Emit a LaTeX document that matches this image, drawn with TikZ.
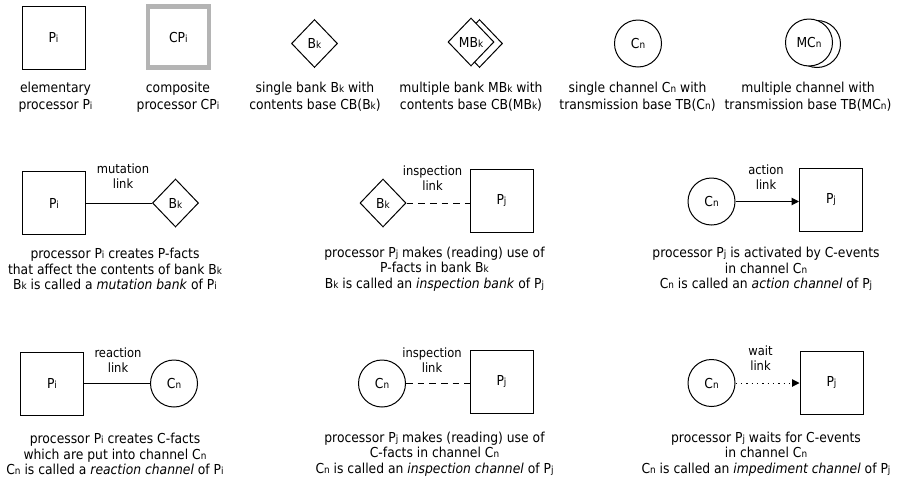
\documentclass[tikz,border=0pt]{standalone}
\usepackage{fontspec}
\setmainfont{DejaVu Sans Condensed}[ItalicFont={DejaVu Sans Condensed Oblique}]
\usetikzlibrary{shapes.geometric,arrows.meta}

% small index letters set on the baseline
\newcommand\ix[1]{{\fontsize{7.4}{7.4}\selectfont #1}}
\definecolor{cpgray}{RGB}{180,180,180}

\begin{document}
\begin{tikzpicture}[x=0.75pt,y=-0.75pt,
  every node/.style={font=\fontsize{10.3}{11.8}\selectfont},
  proc/.style={draw,line width=0.75pt,minimum size=47.25pt,inner sep=0pt,fill=white},
  cproc/.style={draw=cpgray,line width=3.2pt,minimum size=45.75pt,inner sep=0pt},
  bank/.style={draw,diamond,line width=0.75pt,minimum width=34.5pt,minimum height=36pt,inner sep=0pt,fill=white},
  chan/.style={draw,circle,line width=0.75pt,minimum size=35.25pt,inner sep=0pt,fill=white},
  captext/.style={align=center,inner sep=0pt},
  toptext/.style={captext,font=\fontsize{10.3}{12.6}\selectfont},
  linklabel/.style={align=center,inner sep=0pt,font=\fontsize{9.6}{11.25}\selectfont},
  link/.style={line width=0.75pt},
  dashlink/.style={link,dash pattern=on 5pt off 3.75pt},
  dotlink/.style={link,dash pattern=on 1.1pt off 2.9pt},
  tipped/.style={-{Triangle[length=5.5pt,width=5.5pt]}}
]
\useasboundingbox (0,0) rectangle (897,479);

% ---- legend of the symbols ----
\node[proc]  (pi)   at (53.5,37.5) {P\ix{i}};
\node[cproc] (cpi)  at (178.3,37)  {CP\ix{i}};
\node[bank]  (bk)   at (314.5,43.5) {B\ix{k}};
\node[bank]  (mbkb) at (479.5,43.5) {};
\node[bank]  (mbk)  at (471,42)    {MB\ix{k}};
\node[chan]  (cn)   at (638,43.5)  {C\ix{n}};
\node[chan]  (mcnb) at (817,44)    {};
\node[chan]  (mcn)  at (809,42.5)  {MC\ix{n}};

\node[toptext] (tpi)  at (55.5,97)  {elementary\\processor P\ix{i}};
\node[toptext] (tcpi) at (178,97)   {composite\\processor CP\ix{i}};
\node[toptext] (tbk)  at (315,97)   {single bank B\ix{k} with\\contents base CB(B\ix{k})};
\node[toptext] (tmbk) at (471,97)   {multiple bank MB\ix{k} with\\contents base CB(MB\ix{k})};
\node[toptext] (tcn)  at (637.5,97) {single channel C\ix{n} with\\transmission base TB(C\ix{n})};
\node[toptext] (tmcn) at (808,97)   {multiple channel with\\transmission base TB(MC\ix{n})};

% ---- mutation link ----
\node[proc] (ma) at (54,203)    {P\ix{i}};
\node[bank] (mb) at (175.5,203) {B\ix{k}};
\draw[link] (ma.east) -- (mb.west);
\node[linklabel] (ml) at (123,176.5) {mutation\\link};
\node[captext] (mt) at (115,269)
  {processor P\ix{i} creates P-facts\\that affect the contents of bank B\ix{k}\\B\ix{k} is called a \textit{mutation bank} of P\ix{i}};

% ---- inspection link to a bank ----
\node[bank] (ib) at (383,203)     {B\ix{k}};
\node[proc] (ip) at (501.5,200.5) {P\ix{j}};
\draw[dashlink] (ib.east) -- (ib.east -| ip.west);
\node[linklabel] (il) at (432.5,178.5) {inspection\\link};
\node[captext] (it) at (434.5,269)
  {processor P\ix{j} makes (reading) use of\\P-facts in bank B\ix{k}\\B\ix{k} is called an \textit{inspection bank} of P\ix{j}};

% ---- action link ----
\node[chan] (ac) at (711.5,201.5) {C\ix{n}};
\node[proc] (ap) at (831,199.5)   {P\ix{j}};
\draw[link,tipped] (ac.east) -- (ac.east -| ap.west);
\node[linklabel] (al) at (766,177.5) {action\\link};
\node[captext] (atx) at (766,269)
  {processor P\ix{j} is activated by C-events\\in channel C\ix{n}\\C\ix{n} is called an \textit{action channel} of P\ix{j}};

% ---- reaction link ----
\node[proc] (ra) at (52,383.5)  {P\ix{i}};
\node[chan] (rc) at (174,383.5) {C\ix{n}};
\draw[link] (ra.east) -- (rc.west);
\node[linklabel] (rl) at (118,360.5) {reaction\\link};
\node[captext] (rt) at (115,454)
  {processor P\ix{i} creates C-facts\\which are put into channel C\ix{n}\\C\ix{n} is called a \textit{reaction channel} of P\ix{i}};

% ---- inspection link to a channel ----
\node[chan] (jc) at (382,383.5)   {C\ix{n}};
\node[proc] (jp) at (501.5,382)   {P\ix{j}};
\draw[dashlink] (jc.east) -- (jc.east -| jp.west);
\node[linklabel] (jl) at (432,360) {inspection\\link};
\node[captext] (jt) at (434.5,454)
  {processor P\ix{j} makes (reading) use of\\C-facts in channel C\ix{n}\\C\ix{n} is called an \textit{inspection channel} of P\ix{j}};

% ---- wait link ----
\node[chan] (wc) at (711.5,383)   {C\ix{n}};
\node[proc] (wp) at (831.5,382.5) {P\ix{j}};
\draw[dotlink,tipped] (wc.east) -- (wc.east -| wp.west);
\node[linklabel] (wl) at (760.5,358.5) {wait\\link};
\node[captext] (wt) at (766,454)
  {processor P\ix{j} waits for C-events\\in channel C\ix{n}\\C\ix{n} is called an \textit{impediment channel} of P\ix{j}};
\end{tikzpicture}
\end{document}
